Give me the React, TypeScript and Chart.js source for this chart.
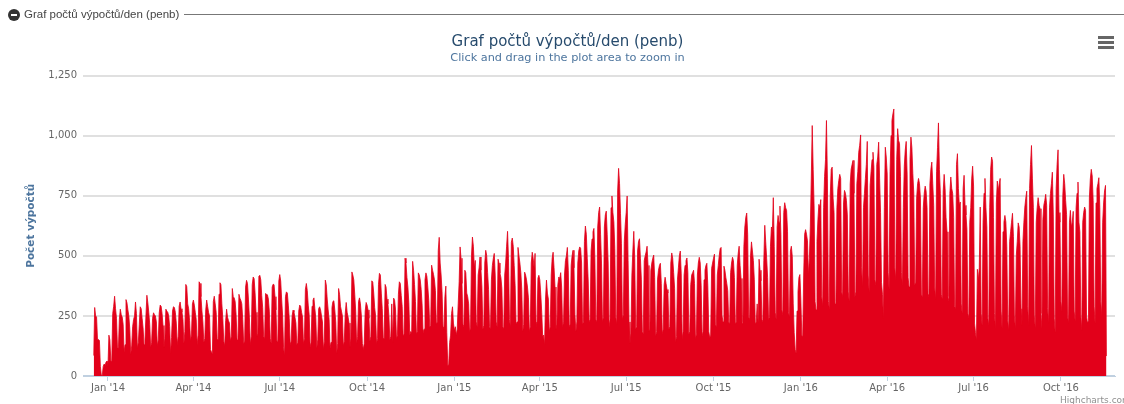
import React, { useEffect, useRef } from "react";
import { Chart, registerables } from "chart.js";

Chart.register(...registerables);

const firstDay = "2013-12-17";
const panelTitle = "Graf počtů výpočtů/den (penb)";
const chartTitle = "Graf počtů výpočtů/den (penb)";
const chartSubtitle = "Click and drag in the plot area to zoom in";
const yAxisTitle = "Počet výpočtů";
const creditText = "Highcharts.com";
const yTickValues = [0, 250, 500, 750, 1000, 1250];
const xTickDates = ["2014-01-01","2014-04-01","2014-07-01","2014-10-01","2015-01-01","2015-04-01","2015-07-01","2015-10-01","2016-01-01","2016-04-01","2016-07-01","2016-10-01"];
const xTickLabels = ["Jan '14","Apr '14","Jul '14","Oct '14","Jan '15","Apr '15","Jul '15","Oct '15","Jan '16","Apr '16","Jul '16","Oct '16"];

const counts2013 = [
  85,285,250,245,150,152,
  148,40,3,2,40,50,45,
];
const counts2014 = [
  58,62,40,170,150,65,60,
  260,290,332,280,240,120,115,
  235,278,255,245,215,100,130,
  318,305,275,250,195,90,125,
  205,235,250,308,260,115,140,
  215,288,280,240,200,130,150,
  250,336,305,265,215,120,140,
  240,263,255,250,225,125,150,
  262,295,290,260,210,120,155,
  278,270,265,250,205,95,160,
  270,288,285,265,220,130,165,
  290,308,280,265,235,135,185,
  381,372,300,280,230,145,175,
  300,316,295,265,235,130,170,
  392,385,330,270,225,140,155,
  275,316,290,265,250,110,100,
  90,310,332,300,265,155,150,
  340,388,380,300,240,145,125,
  230,278,245,230,220,145,165,
  364,330,325,310,255,150,160,
  340,324,315,300,235,135,145,
  370,398,385,320,245,130,165,
  380,412,405,345,265,165,175,
  415,419,400,335,285,165,155,
  343,340,338,320,270,155,135,
  370,382,380,330,275,145,145,
  395,422,395,320,250,120,85,
  330,350,345,295,240,130,145,
  250,274,265,245,220,130,140,
  270,295,290,265,245,135,155,
  360,385,355,295,255,120,140,
  290,315,325,280,240,115,150,
  280,288,275,250,225,110,145,
  399,380,320,275,235,115,140,
  285,310,313,275,225,95,135,
  364,340,290,270,250,125,145,
  260,306,265,245,220,120,155,
  433,420,400,340,270,135,165,
  310,325,300,250,135,110,135,
  270,306,295,275,240,145,165,
  396,390,345,285,250,135,155,
  380,427,420,345,280,160,155,
  381,370,320,300,250,150,165,
  300,140,324,315,275,155,170,
  340,392,385,335,290,165,175,
  490,470,410,370,305,170,185,
  180,477,440,380,310,175,185,
  429,420,400,360,295,180,195,
  400,429,415,370,315,205,210,
  461,440,423,400,355,215,225,
  523,577,470,420,350,205,195,
  330,374,180,45,46,140,170,
];
const counts2015 = [
  260,288,220,190,205,170,195,
  300,392,537,490,385,215,205,
  440,430,345,330,300,185,200,
  500,578,540,450,481,225,205,
  420,450,495,440,370,195,210,
  470,523,502,430,360,205,195,
  400,460,490,510,420,225,205,
  486,470,427,410,365,205,195,
  420,470,540,602,490,235,205,
  556,574,540,460,375,215,225,
  535,500,470,430,360,185,215,
  432,420,400,370,325,185,205,
  470,515,490,450,510,225,205,
  407,419,400,340,265,165,170,
  129,320,399,345,320,185,205,
  420,490,515,450,370,195,215,
  380,412,405,430,370,205,225,
  420,480,500,535,440,205,215,
  460,500,523,450,255,185,225,
  470,520,537,531,470,215,225,
  560,624,590,490,395,225,235,
  520,570,600,614,490,235,225,
  620,680,703,590,470,225,245,
  620,670,686,590,470,205,235,
  700,749,680,641,530,245,215,
  770,864,800,677,550,235,255,
  560,631,680,749,480,225,135,
  178,420,520,602,490,195,205,
  520,560,571,490,400,185,175,
  480,500,516,540,460,185,195,
  440,470,490,503,410,165,185,
  400,440,460,469,385,175,195,
  380,411,385,360,345,195,205,
  470,512,490,430,365,140,165,
  400,450,500,520,425,155,185,
  420,460,480,491,430,175,185,
  380,420,430,440,385,155,175,
  420,470,494,470,375,165,185,
  400,440,460,469,375,185,160,
  170,448,470,490,507,215,205,
  420,460,500,530,535,250,225,
  457,440,410,385,355,225,215,
  430,470,494,480,410,215,225,
  460,510,540,460,406,225,215,
  540,620,660,678,590,245,235,
  500,558,520,480,400,215,225,
  300,225,486,440,396,235,225,
  480,627,558,490,410,235,245,
  540,620,600,742,540,265,235,
  620,668,640,707,590,275,255,
  680,721,700,689,600,265,245,
  520,540,498,300,180,110,95,
  270,350,410,422,320,170,163,
];
const counts2016 = [
  420,590,609,590,562,420,490,
  620,820,1042,860,703,310,275,
  560,650,714,700,734,330,290,
  700,830,900,1063,820,310,280,
  750,860,869,740,680,300,310,
  700,780,814,839,822,350,330,
  720,772,760,731,670,350,310,
  800,860,880,897,760,330,350,
  800,850,931,960,1003,450,370,
  700,760,822,880,976,420,350,
  793,850,900,931,868,400,380,
  880,911,973,820,680,390,340,
  241,700,952,911,840,430,360,
  850,1000,1063,1090,1111,450,400,
  900,1029,980,967,830,430,380,
  700,873,940,976,840,410,370,
  900,994,950,842,760,380,390,
  740,800,822,801,740,340,330,
  700,760,790,769,700,340,330,
  800,860,890,800,710,370,320,
  850,950,1053,860,760,340,320,
  770,839,780,660,600,330,310,
  760,828,780,759,660,290,280,
  880,925,780,710,724,300,260,
  780,835,710,670,610,260,240,
  640,700,820,873,790,220,180,
  150,444,400,450,703,260,210,
  640,760,822,700,620,240,210,
  700,860,911,893,660,260,200,
  720,811,770,800,822,270,200,
  600,640,668,641,540,230,190,
  560,600,640,677,580,250,200,
  500,560,637,620,540,280,210,
  560,640,703,740,769,290,210,
  780,880,959,820,700,250,200,
  640,700,742,710,696,260,200,
  650,710,730,756,710,280,220,
  700,760,800,848,670,240,180,
  780,880,941,680,640,310,270,
  750,839,800,730,671,250,220,
  640,689,620,640,685,270,230,
  700,760,807,640,600,250,190,
  640,680,703,689,250,220,230,
  740,820,860,832,730,290,220,
  720,780,800,825,700,310,250,
  640,720,770,793,83,
];

const dailyCounts = [...counts2013, ...counts2014, ...counts2015, ...counts2016];
const MS_DAY = 86400000;
const dayNumber = (iso: string) => Date.parse(iso + "T00:00:00Z") / MS_DAY;
const startDay = dayNumber(firstDay);
const origin = dayNumber(xTickDates[0]);
const points = dailyCounts.map((y, i) => ({ x: startDay + i, y }));

export default function App() {
  const ref = useRef<HTMLCanvasElement>(null);
  useEffect(() => {
    if (!ref.current) return;
    const chart = new Chart(ref.current, {
      type: "line",
      data: {
        datasets: [{
          data: points,
          fill: "origin",
          backgroundColor: "#e2001a",
          borderColor: "#e2001a",
          borderWidth: 0.8,
          borderJoinStyle: "round",
          pointRadius: 0,
          tension: 0,
        }],
      },
      options: {
        responsive: false,
        animation: false,
        layout: { padding: { left: 20, right: 9, top: 0, bottom: 0 } },
        plugins: {
          legend: { display: false },
          tooltip: { enabled: false },
          title: {
            display: true,
            text: chartTitle,
            color: "#274b6d",
            font: { family: "'DejaVu Sans'", size: 15, weight: "normal", lineHeight: 1.2 },
            padding: { top: 33, bottom: 0 },
          },
          subtitle: {
            display: true,
            text: chartSubtitle,
            color: "#4d759e",
            font: { family: "'DejaVu Sans'", size: 11.3, weight: "normal", lineHeight: 1.2 },
            padding: { top: 0, bottom: 11 },
          },
        },
        scales: {
          x: {
            type: "linear",
            min: origin - 26.3,
            max: origin + 1061,
            afterBuildTicks: (s: any) => { s.ticks = xTickDates.map((d) => ({ value: dayNumber(d) })); },
            afterFit: (s: any) => { s.height = 28; },
            ticks: {
              autoSkip: false,
              maxRotation: 0,
              color: "#666666",
              padding: 1,
              font: { family: "'DejaVu Sans'", size: 10 },
              callback: (_v: any, i: number) => xTickLabels[i],
            },
            border: { color: "#c0d0e0", width: 1 },
            grid: { drawOnChartArea: false, drawTicks: true, tickLength: 5, color: "#c0d0e0" },
          },
          y: {
            min: 0,
            max: 1250,
            afterBuildTicks: (s: any) => { s.ticks = yTickValues.map((value) => ({ value })); },
            afterFit: (s: any) => { s.width = 63; },
            ticks: {
              color: "#666666",
              padding: 6,
              font: { family: "'DejaVu Sans'", size: 10 },
              callback: (v: any) => Number(v).toLocaleString("en-US"),
            },
            title: {
              display: true,
              text: yAxisTitle,
              color: "#4d759e",
              font: { family: "'DejaVu Sans'", size: 10.5, weight: "bold" },
              padding: { top: 5, bottom: 0 },
            },
            border: { display: false },
            grid: {
              drawTicks: false,
              lineWidth: 2,
              color: (ctx: any) => (ctx.tick && ctx.tick.value === 0 ? "#c0d0e0" : "#e0e0e0"),
            },
          },
        },
      },
    });
    return () => chart.destroy();
  }, []);

  return (
    <div style={{ position: "absolute", left: 0, top: 0, width: 1124, height: 404, overflow: "hidden", background: "#fff" }}>
      <canvas ref={ref} width={1124} height={404} style={{ display: "block" }} />
      <div style={{ position: "absolute", left: 8, top: 9, width: 12, height: 12, borderRadius: 6, background: "#333" }}>
        <div style={{ position: "absolute", left: 3, top: 5, width: 6, height: 2, background: "#fff" }} />
      </div>
      <div style={{ position: "absolute", left: 24, top: 8, font: "11.5px 'Liberation Sans'", color: "#444", whiteSpace: "nowrap" }}>{panelTitle}</div>
      <div style={{ position: "absolute", left: 184, top: 14, right: 0, height: 1, background: "#777" }} />
      {[36, 41, 46].map((top) => (
        <div key={top} style={{ position: "absolute", left: 1098, top, width: 16, height: 3, background: "#666" }} />
      ))}
      <div style={{ position: "absolute", left: 1060, top: 395, font: "9px 'DejaVu Sans'", color: "#909090", whiteSpace: "nowrap" }}>{creditText}</div>
    </div>
  );
}
